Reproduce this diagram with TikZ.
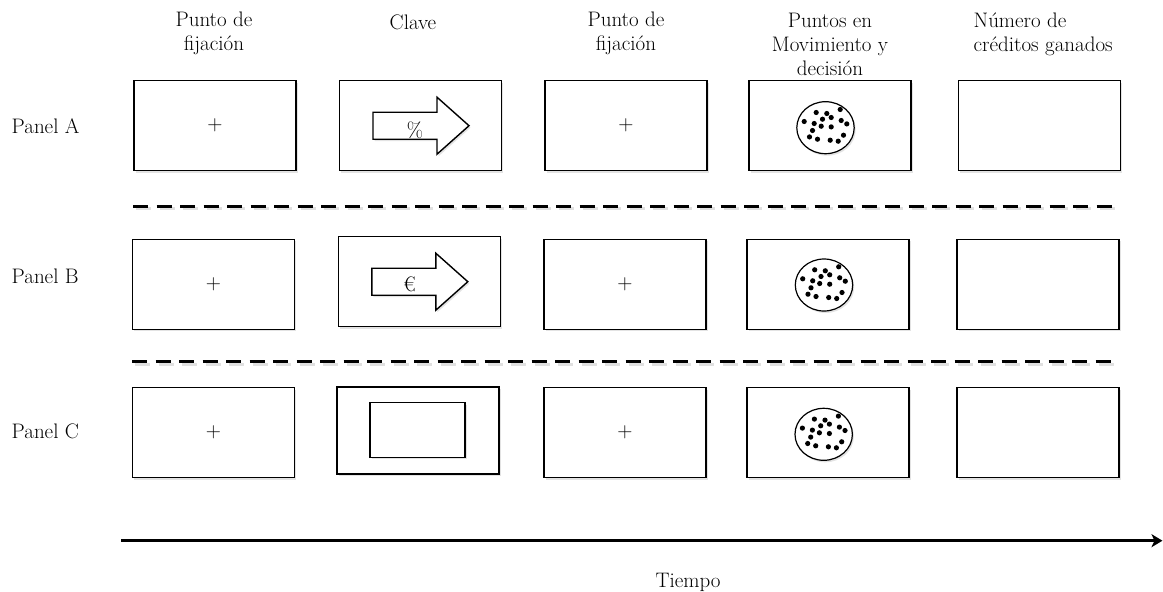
\documentclass[tikz,border=0pt]{standalone}
\usepackage{fontspec}
\usetikzlibrary{shadows,arrows.meta}
\tikzset{
  txt/.style={font=\fontsize{21}{24}\selectfont, inner sep=0pt},
  shade1/.style={drop shadow={opacity=0.22, shadow xshift=1.5pt, shadow yshift=-2pt}},
  frame/.style={draw, line width=1.5pt, minimum width=162pt, minimum height=90pt,
    fill=white, shade1, font=\fontsize{21}{24}\selectfont, inner sep=0pt},
  sep/.style={line width=3pt, dash pattern=on 15pt off 8.5pt},
  sepshadow/.style={line width=3pt, dash pattern=on 15pt off 8.5pt, gray!70, opacity=0.35},
  cuearrow/.pic={
    \draw[line width=1.4pt, fill=white, shade1]
      (-47.5,-13.5) -- (16.5,-13.5) -- (16.5,-28.5) -- (48.5,0) -- (16.5,28.5)
      -- (16.5,13.5) -- (-47.5,13.5) -- cycle;
  },
  dotcloud/.pic={
    \draw[line width=1.2pt, fill=white, shade1] (0,0) ellipse [x radius=28.7, y radius=26];
    \foreach \dx/\dy in {-9.3/-15.2, 1.3/-14.2, 14.7/-18.2, -21.3/-6.2, -11.3/-4.2,
      -3/-8.5, 5.7/-10.2, 15.7/-7.2, 21.3/-3.8, -4.3/-1.5, 5.7/-0.8, -13/2.8,
      -16/9.2, -8/11.5, 4.7/12.5, 12.7/13.5, 18/7.5}
      \fill (\dx,\dy) circle (2.6pt);
  }
}
\begin{document}
\begin{tikzpicture}[x=1pt,y=-1pt]
\useasboundingbox (0,0) rectangle (1163,592);

% column titles (anchor = baseline of last line)
\node[txt, anchor=base, align=center] (t1) at (214,50) {Punto de\\fijación};
\node[txt, anchor=base, align=center] (t2) at (413,29.5) {Clave};
\node[txt, anchor=base, align=center] (t3) at (626,50) {Punto de\\fijación};
\node[txt, anchor=base, align=center] (t4) at (830,75.3) {Puntos en\\Movimiento y\\decisión};
\node[txt, anchor=base west, align=left] (t5) at (973.5,51.3) {Número de\\créditos ganados};

% panel labels
\node[txt, anchor=base west] (pa) at (11.5,133.3) {Panel A};
\node[txt, anchor=base west] (pb) at (11.5,283.3) {Panel B};
\node[txt, anchor=base west] (pc) at (11.5,438.3) {Panel C};

% Panel A
\node[frame] (a1) at (215,125.7) {+};
\node[frame] (a2) at (420.5,125.7) {};
\node[frame] (a3) at (626,125.7) {+};
\node[frame] (a4) at (830,125.7) {};
\node[frame] (a5) at (1039.5,125.7) {};
\pic at (420.5,125.7) {cuearrow};
\node[txt] (pct) at (415,130) {\%};
\pic at (825.5,127.7) {dotcloud};

% separator 1
\coordinate (s1a) at (133,206);
\coordinate (s1b) at (1117,206);
\draw[sepshadow] ([shift={(3,2.5)}]s1a) -- ([shift={(3,2.5)}]s1b);
\draw[sep] (s1a) -- (s1b);

% Panel B
\node[frame] (b1) at (213.5,284.3) {+};
\node[frame] (b2) at (419.3,281.7) {};
\node[frame] (b3) at (625,284.3) {+};
\node[frame] (b4) at (828,284.3) {};
\node[frame] (b5) at (1038,284.3) {};
\pic at (419.3,281.7) {cuearrow};
\node[txt] (eur) at (409.5,284) {€};
\pic at (824,285) {dotcloud};

% separator 2
\coordinate (s2a) at (132,361.7);
\coordinate (s2b) at (1117,361.7);
\draw[sepshadow] ([shift={(3,2.5)}]s2a) -- ([shift={(3,2.5)}]s2b);
\draw[sep] (s2a) -- (s2b);

% Panel C
\node[frame] (c1) at (213.5,432.7) {+};
\node[frame, minimum height=87pt] (c2) at (418.1,430.7) {};
\node[frame, minimum width=95pt, minimum height=54.6pt] (c2in) at (417.5,430) {};
\node[frame] (c3) at (625,432.7) {+};
\node[frame] (c4) at (828,432.7) {};
\node[frame] (c5) at (1038,432.7) {};
\pic at (823.7,434.3) {dotcloud};

% time axis
\coordinate (ax0) at (121,540.7);
\coordinate (ax1) at (1162.5,540.7);
\draw[line width=3.5pt, -{Stealth[length=11pt,width=13pt,inset=3pt]}] (ax0) -- (ax1);
\node[txt, anchor=base] (tiempo) at (688,587) {Tiempo};
\end{tikzpicture}
\end{document}
